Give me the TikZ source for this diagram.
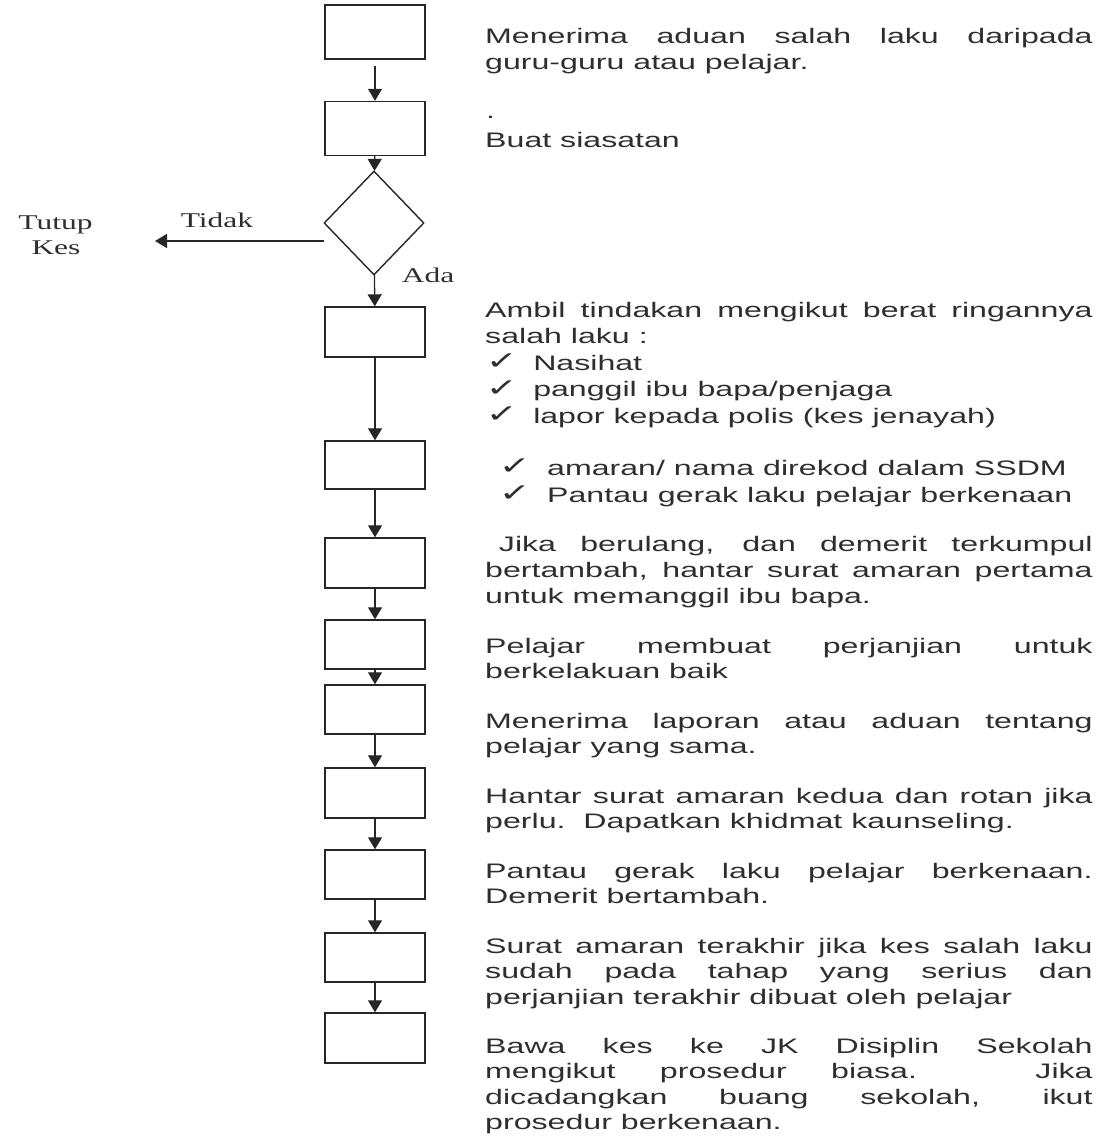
\documentclass[tikz,border=0pt]{standalone}
\usepackage{fontspec}
\setmainfont{Liberation Sans}
\newfontfamily\serifx{Liberation Serif}
\newfontfamily\symf{DejaVu Sans}
\usetikzlibrary{arrows.meta,shapes.geometric}
\definecolor{ink}{HTML}{2E2E2E}
\definecolor{linec}{HTML}{262626}
\newcommand\chk{{\symf\fontsize{25}{25}\selectfont\raisebox{0.5pt}{✓}}}
\newcommand\wpar[2][25.5]{\scalebox{1.53}[1]{\parbox[t]{397pt}{\fontsize{21}{#1}\selectfont\tolerance=10000\hbadness=10000\hyphenpenalty=10000 #2}}}
\newcommand\slab[1]{\scalebox{1.5}[1]{\serifx\fontsize{21}{25}\selectfont #1}}
\begin{document}
\begin{tikzpicture}[x=1pt,y=-1pt,
  box/.style={draw=linec, line width=1.4pt, minimum width=100pt, minimum height=50pt, inner sep=0pt},
  dia/.style={draw=linec, line width=1.4pt, diamond, minimum width=100pt, minimum height=104pt, inner sep=0pt},
  arr/.style={draw=linec, line width=1.3pt, -{Triangle[width=14pt,length=12pt]}},
  txt/.style={anchor=base west, inner sep=0pt, text=ink},
  lab/.style={anchor=base, inner sep=0pt, text=ink}]
\useasboundingbox (0,0) rectangle (1103,1137);
% boxes
\node[box, minimum height=54pt] (b1) at (375,32) {};
\node[box, minimum height=54pt] (b2) at (375,128.5) {};
\node[dia] (d) at (374,223) {};
\node[box] (b3) at (375,332) {};
\node[box, minimum height=48pt] (b4) at (375,465) {};
\node[box] (b5) at (375,563) {};
\node[box, minimum height=49pt] (b6) at (375,644.5) {};
\node[box, minimum height=49pt] (b7) at (375,709.5) {};
\node[box] (b8) at (375,793) {};
\node[box, minimum height=49pt] (b9) at (375,874.5) {};
\node[box, minimum height=49pt] (b10) at (375,957.5) {};
\node[box] (b11) at (375,1038) {};
% connectors
\draw[arr, shorten <=6pt] (b1) -- (b2);
\draw[arr] (b2) -- (d);
\draw[arr] (d) -- (b3);
\draw[arr] (b3) -- (b4);
\draw[arr] (b4) -- (b5);
\draw[arr] (b5) -- (b6);
\draw[arr] (b6) -- (b7);
\draw[arr] (b7) -- (b8);
\draw[arr] (b8) -- (b9);
\draw[arr] (b9) -- (b10);
\draw[arr] (b10) -- (b11);
\coordinate (ts) at (324,241);
\coordinate (te) at (155,241);
\draw[arr] (ts) -- (te);
% labels
\node[lab] (tutup) at (55.5,229) {\slab{Tutup}};
\node[lab] (kes) at (56,254) {\slab{Kes}};
\node[lab] (tidak) at (217,227) {\slab{Tidak}};
\node[lab] (ada) at (428,282) {\slab{Ada}};
% texts
\node[txt] (t1) at (485,44) {\wpar{Menerima aduan salah laku daripada\linebreak guru-guru atau pelajar.}};
\node[txt] (dot) at (486,118) {\wpar{.}};
\node[txt] (t2) at (485,147) {\wpar{Buat siasatan}};
\node[txt] (t3) at (485,317) {\wpar[26.5]{Ambil tindakan mengikut berat ringannya\linebreak salah laku :\par
\makebox[31.4pt][l]{\hspace*{0.5pt}\chk}Nasihat\par
\makebox[31.4pt][l]{\hspace*{0.5pt}\chk}panggil ibu bapa/penjaga\par
\makebox[31.4pt][l]{\hspace*{0.5pt}\chk}lapor kepada polis (kes jenayah)}};
\node[txt] (t4) at (485,475) {\wpar[27]{\makebox[40.5pt][l]{\hspace*{9pt}\chk}amaran/ nama direkod dalam SSDM\par
\makebox[40.5pt][l]{\hspace*{9pt}\chk}Pantau gerak laku pelajar berkenaan}};
\node[txt] (t5) at (485,551) {\wpar[26]{\hspace*{9pt}Jika berulang, dan demerit terkumpul\linebreak bertambah, hantar surat amaran pertama\linebreak untuk memanggil ibu bapa.}};
\node[txt] (t6) at (485,653) {\wpar{Pelajar membuat perjanjian untuk\linebreak berkelakuan baik}};
\node[txt] (t7) at (485,728) {\wpar{Menerima laporan atau aduan tentang\linebreak pelajar yang sama.}};
\node[txt] (t8) at (485,803) {\wpar{Hantar surat amaran kedua dan rotan jika\linebreak perlu.\ \ Dapatkan khidmat kaunseling.}};
\node[txt] (t9) at (485,878) {\wpar{Pantau gerak laku pelajar berkenaan.\linebreak Demerit bertambah.}};
\node[txt] (t10) at (485,953) {\wpar{Surat amaran terakhir jika kes salah laku\linebreak sudah pada tahap yang serius dan\linebreak perjanjian terakhir dibuat oleh pelajar}};
\node[txt] (t11) at (485,1053) {\wpar{Bawa kes ke JK Disiplin Sekolah\linebreak mengikut prosedur biasa. Jika\linebreak dicadangkan buang sekolah, ikut\linebreak prosedur berkenaan.}};
\end{tikzpicture}
\end{document}
